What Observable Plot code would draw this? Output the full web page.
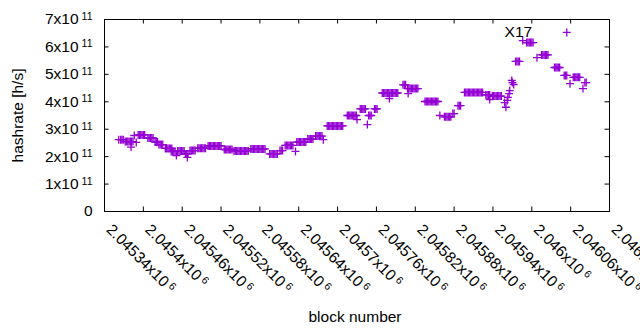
<!DOCTYPE html>
<html>
<head>
<meta charset="utf-8">
<script src="https://cdn.jsdelivr.net/npm/d3@7"></script>
<script src="https://cdn.jsdelivr.net/npm/@observablehq/plot@0.6"></script>
<style>
  html, body { margin: 0; padding: 0; background: #fff; }
</style>
</head>
<body>
<script>
// ---- data (block number = BASE + offset, hashrate in GH/s) ----
const BASE = 2045000;
const blockOffset = [
  362, 365, 367, 369,
  372, 374, 376, 378, 380, 382, 384, 381,
  389, 386, 392, 394, 396, 398, 400, 402,
  407, 409, 411, 413, 415, 418, 420, 422,
  424, 426, 428, 430, 434, 436, 438, 440, 442, 444,
  443, 445, 447, 449, 451,
  453, 455, 457, 459, 461, 463, 465, 467, 469, 468,
  472, 474, 476, 478, 480, 484, 486, 488, 490, 492, 494, 496,
  500, 502, 504, 506, 508, 510, 512, 514, 516, 518, 520,
  525, 527, 529, 531, 533, 535, 537,
  540, 542, 544, 546, 548, 550, 552, 554, 556, 558, 560, 562,
  566, 568, 570, 572, 574, 576, 578, 580, 582, 584, 586, 588,
  595, 597, 599, 601, 603, 605, 607, 611, 613, 615,
  619, 621, 623, 625, 627, 629, 631, 635,
  637, 639, 641, 643, 645, 647, 649, 651, 654, 656, 658, 660, 662,
  666, 668, 670, 672, 674, 676, 678,
  684, 686, 688, 690, 692, 694, 696, 698, 700, 702, 704, 706, 708,
  715, 717, 719, 721, 723, 725, 727, 729, 730,
  735, 737, 739, 741, 743, 746, 748, 750, 752, 757, 759, 761,
  769, 771, 773, 775, 777, 779, 781, 783, 785, 787, 789, 791, 793, 780,
  801, 803, 805, 808, 810, 812, 814, 816, 818, 820, 822, 824, 809,
  835, 837, 839, 841, 843, 845, 847, 849, 851, 853, 855, 858,
  865, 867, 869, 871, 873, 875, 878, 880, 886, 888, 890,
  896, 898, 900, 902, 904, 906, 908, 910, 912, 914, 916, 918, 920, 922, 924,
  929, 931, 933, 935, 935, 939, 941, 943, 945, 947, 949, 951, 953,
  958, 960, 962, 963, 965, 966, 969, 970, 972,
  975, 977, 979, 981, 986, 992, 994, 996, 998, 1000, 1002,
  1008, 1015, 1017, 1019, 1021, 1023, 1025,
  1035, 1037, 1039, 1041, 1043, 1050, 1052, 1054, 1054, 1059,
  1064, 1066, 1068, 1070, 1072, 1074, 1079, 1082, 1084
];
const hashrateGH = [
  262, 262, 262, 262,
  255, 255, 255, 255, 255, 255, 255, 235,
  252, 277, 279, 279, 279, 279, 279, 279,
  268, 268, 268, 268, 268, 253, 253, 253,
  244, 244, 244, 244, 230, 230, 230, 230, 230, 230,
  219, 219, 219, 219, 204,
  221, 221, 221, 221, 221, 221, 210, 210, 210, 197,
  222, 222, 222, 222, 222, 231, 231, 231, 231, 231, 231, 231,
  239, 239, 239, 239, 239, 239, 239, 239, 239, 239, 239,
  226, 226, 226, 226, 226, 226, 226,
  221, 221, 221, 221, 221, 221, 221, 221, 221, 221, 221, 221,
  228, 228, 228, 228, 228, 228, 228, 228, 228, 228, 228, 228,
  210, 210, 210, 210, 210, 210, 210, 222, 222, 222,
  241, 241, 241, 241, 241, 241, 241, 219,
  253, 253, 253, 253, 253, 253, 253, 253, 264, 264, 264, 264, 264,
  275, 275, 275, 275, 275, 275, 262,
  312, 312, 312, 312, 312, 312, 312, 312, 312, 312, 312, 312, 312,
  350, 350, 350, 350, 350, 350, 350, 350, 335,
  374, 374, 374, 374, 374, 317, 350, 350, 350, 374, 374, 374,
  432, 432, 432, 432, 432, 432, 432, 432, 432, 432, 432, 432, 432, 412,
  462, 462, 462, 448, 448, 448, 448, 448, 448, 448, 448, 448, 430,
  401, 401, 401, 401, 401, 401, 401, 401, 401, 401, 401, 350,
  345, 345, 345, 345, 345, 345, 357, 357, 386, 386, 386,
  434, 434, 434, 434, 434, 434, 434, 434, 434, 434, 434, 434, 434, 434, 434,
  425, 425, 425, 425, 408, 421, 421, 421, 421, 421, 421, 421, 421,
  397, 380, 405, 416, 430, 441, 478, 470, 463,
  547, 547, 547, 547, 623, 616, 616, 616, 616, 616, 616,
  561, 571, 571, 571, 571, 571, 571,
  525, 525, 525, 525, 525, 496, 496, 496, 653, 466,
  489, 489, 489, 489, 489, 489, 448, 470, 470
];

const xTickValues = [2045340, 2045400, 2045460, 2045520, 2045580, 2045640, 2045700,
  2045760, 2045820, 2045880, 2045940, 2046000, 2046060, 2046120];
const xTickLabels = ["2.04534x10^6", "2.0454x10^6", "2.04546x10^6", "2.04552x10^6",
  "2.04558x10^6", "2.04564x10^6", "2.0457x10^6", "2.04576x10^6", "2.04582x10^6",
  "2.04588x10^6", "2.04594x10^6", "2.046x10^6", "2.04606x10^6", "2.04612x10^6"];
const yTickValues = [0, 1e11, 2e11, 3e11, 4e11, 5e11, 6e11, 7e11];
const yTickLabels = ["0", "1x10^11", "2x10^11", "3x10^11", "4x10^11", "5x10^11", "6x10^11", "7x10^11"];

const annoText = ["X17"];
const annoBlock = [2045958];
const annoValue = [6.54e11];

const points = blockOffset.map((b, i) => ({block: BASE + b, hashrate: hashrateGH[i] * 1e9}));
const annos = annoText.map((t, i) => ({text: t, block: annoBlock[i], value: annoValue[i]}));

const plusSymbol = {
  draw(context, size) {
    const h = Math.sqrt(size / Math.PI);
    context.moveTo(-h, 0); context.lineTo(h, 0);
    context.moveTo(0, -h); context.lineTo(0, h);
  }
};

const FONT = "'Liberation Sans', Arial, sans-serif";
const FS = 15.5;
const purple = "#9400d3";

const chart = Plot.plot({
  width: 640,
  height: 330,
  marginLeft: 104,
  marginRight: 31,
  marginTop: 19,
  marginBottom: 119,
  style: {fontFamily: FONT, fontSize: FS + "px", background: "#fff", color: "#000", overflow: "hidden"},
  x: {domain: [2045340, 2046120], axis: null},
  y: {domain: [0, 7e11], axis: null},
  marks: [
    Plot.dot(points, {x: "block", y: "hashrate", symbol: plusSymbol, r: 4, stroke: purple, fill: "none", strokeWidth: 1.3}),
    Plot.frame({stroke: "#000", strokeWidth: 1}),
    // inward ticks on all four sides
    Plot.tickX(xTickValues, {x: d => d, insetTop: 187.5, stroke: "#000", strokeWidth: 1}),
    Plot.tickX(xTickValues, {x: d => d, insetBottom: 187.5, stroke: "#000", strokeWidth: 1}),
    Plot.tickY(yTickValues, {y: d => d, insetRight: 500.5, stroke: "#000", strokeWidth: 1}),
    Plot.tickY(yTickValues, {y: d => d, insetLeft: 500.5, stroke: "#000", strokeWidth: 1}),
    // tick labels
    Plot.text(yTickValues, {y: d => d, text: (d, i) => yTickLabels[i], frameAnchor: "left",
      textAnchor: "end", lineAnchor: "middle", dx: -12, fontSize: FS, fill: "#000"}),
    Plot.text(xTickValues, {x: d => d, text: (d, i) => xTickLabels[i], frameAnchor: "bottom",
      textAnchor: "start", lineAnchor: "bottom", rotate: 45, dx: 1, dy: 19, fontSize: FS, fill: "#000"}),
    // axis titles
    Plot.text(["hashrate [h/s]"], {frameAnchor: "left", rotate: -90, dx: -86, lineAnchor: "middle",
      textAnchor: "middle", fontSize: FS, fill: "#000"}),
    Plot.text(["block number"], {frameAnchor: "bottom", dx: -2, dy: 110, lineAnchor: "bottom",
      textAnchor: "middle", fontSize: FS, fill: "#000"}),
    // annotation
    Plot.text(annos, {x: "block", y: "value", text: "text", textAnchor: "start", lineAnchor: "middle",
      fontSize: FS, fill: "#000"})
  ]
});

// render "^" exponents as real superscript tspans
d3.select(chart).selectAll("text").each(function () {
  const t = this.textContent;
  if (t.includes("^")) {
    const [main, sup] = t.split("^");
    const sel = d3.select(this);
    sel.text(main);
    sel.append("tspan").attr("dx", 3).attr("dy", -4.5).attr("font-size", "10.5px").text(sup);
  }
});

document.body.appendChild(chart);
</script>
</body>
</html>
